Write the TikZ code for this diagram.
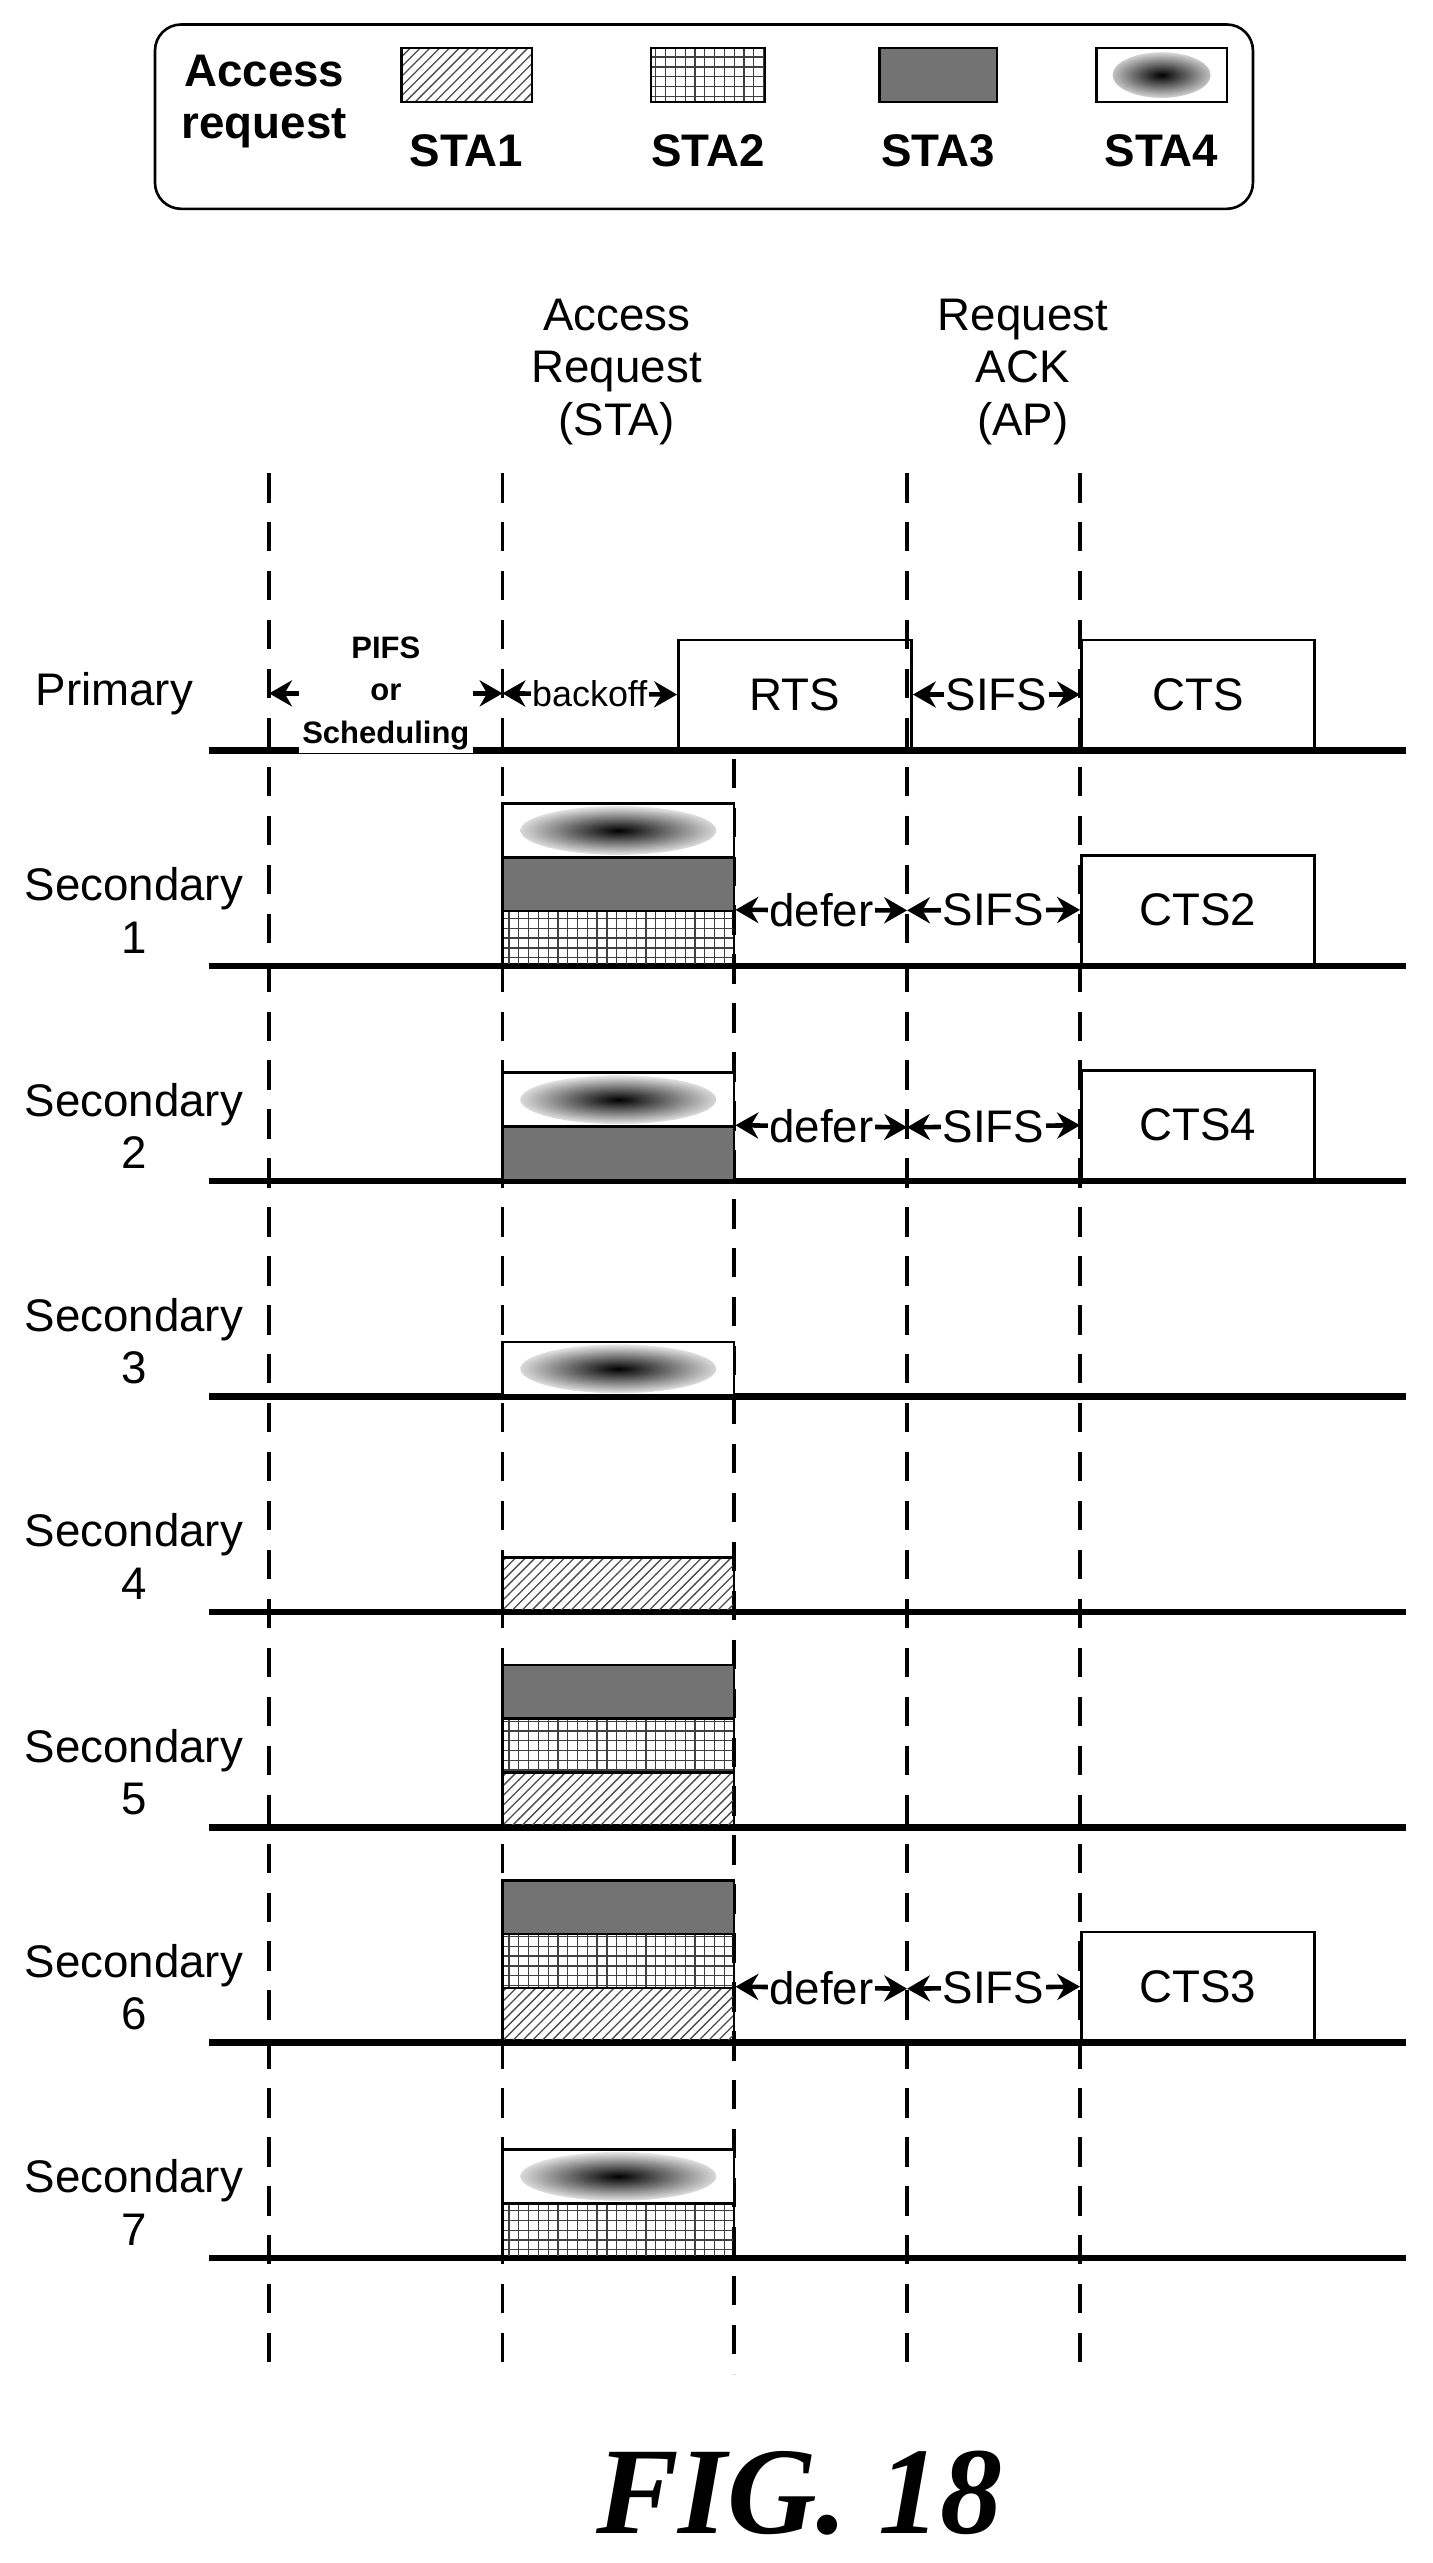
\documentclass[tikz,border=0pt]{standalone}
\usepackage{fontspec}
\setmainfont{Liberation Sans}
\usetikzlibrary{positioning, arrows.meta, patterns}

\begin{document}
\begin{tikzpicture}[%
		x=0.5pt, y=-0.5pt,
		lbl/.style={
			font=\fontsize{14}{16}\selectfont,
			align=center
		},
		slot/.style={
			rectangle,
			draw,
			thick,
			minimum width=71pt,
			minimum height=16.5pt,
			inner sep=0pt
		},
		staA/.style={slot, pattern=north east lines, pattern color=black!70},
		staB/.style={slot, pattern=grid, pattern color=black!75},
		staC/.style={slot, fill=black!55},
		staD/.style={slot, fill=white,
			path picture={\shade[inner color=black, outer color=white]
				(path picture bounding box.center) ellipse (30pt and 7.5pt);}},
		frame/.style={
			rectangle,
			draw,
			thick,
			minimum width=71.5pt,
			minimum height=33.5pt,
			font=\fontsize{14}{16}\selectfont
		},
		span/.style={
			line width=1.4pt,
			{Stealth[length=7pt,width=8pt]}-{Stealth[length=7pt,width=8pt]}
		},
		gaplbl/.style={
			fill=white,
			inner sep=0.5pt,
			font=\fontsize{14}{16}\selectfont
		},
		timeline/.style={line width=2pt},
		guide/.style={line width=1.1pt, dash pattern=on 9pt off 6pt}
	]
	\useasboundingbox (0,0) rectangle (878,1571);

	% LEGEND
	\draw[thick, rounded corners=8pt] (95,15) rectangle (768,128);
	\node[lbl, font=\bfseries\fontsize{14}{16}\selectfont] (legend) at (162,62) {Access\\request};
	\node[staA, minimum width=40pt] (keyA) at (286,46) {};
	\node[staB, minimum width=35pt] (keyB) at (434,46) {};
	\node[staC, minimum width=36pt] (keyC) at (575,46) {};
	\node[staD, minimum width=40pt, path picture={\shade[inner color=black, outer color=white]
		(path picture bounding box.center) ellipse (15pt and 7pt);}] (keyD) at (712,46) {};
	\foreach \k/\n in {A/1,B/2,C/3,D/4}
		\node[lbl, font=\bfseries\fontsize{14}{16}\selectfont, below=6pt of key\k] {STA\n};

	% HEADERS
	\node[lbl] (hdrSTA) at (378,228) {Access\\Request\\(STA)};
	\node[lbl] (hdrAP) at (627,228) {Request\\ACK\\(AP)};

	% GUIDE LINES
	\foreach \x in {165,308,556,662}
		\draw[guide] (\x,290) -- (\x,1455);
	\draw[guide] (450,465) -- (450,1455);

	% TIMELINES
	\foreach \y in {460,592,724,856,988,1120,1252,1384}
		\draw[timeline] (128,\y) -- (862,\y);

	% PRIMARY
	\node[lbl] (primary) at (70,425) {Primary};
	\coordinate (p0) at (165,425);
	\coordinate (p1) at (308,425);
	\node[frame, anchor=south west] (rts) at (415,460) {RTS};
	\node[frame, anchor=south west] (cts) at (662,460) {CTS};
	\draw[span] (p0) -- node[lbl, fill=white, inner sep=1pt, font=\bfseries\fontsize{9.5}{13}\selectfont] (pifs) {PIFS\\or\\Scheduling} (p1);
	\draw[span] (p1) -- node[gaplbl, font=\fontsize{11}{13}\selectfont] {backoff} (rts.west);
	\draw[span] (rts.east) -- node[gaplbl] {SIFS} (cts.west);

	% SECONDARY ROWS
	\node[lbl] (sec1) at (82,558) {Secondary\\1};
	\node[staD] (s1d) at (379,509) {};
	\node[staC] (s1c) at (379,542) {};
	\node[staB] (s1b) at (379,575) {};
	\node[frame, anchor=south west] (cts2) at (662,592) {CTS2};
	\coordinate (s1x) at (556,558);
	\draw[span] (s1b.north east) -- node[gaplbl] {defer} (s1x);
	\draw[span] (s1x) -- node[gaplbl] {SIFS} (cts2.west);

	\node[lbl] (sec2) at (82,690) {Secondary\\2};
	\node[staD] (s2d) at (379,674) {};
	\node[staC] (s2c) at (379,707) {};
	\node[frame, anchor=south west] (cts4) at (662,724) {CTS4};
	\coordinate (s2x) at (556,691);
	\draw[span] (s2c.north east) -- node[gaplbl] {defer} (s2x);
	\draw[span] (s2x) -- node[gaplbl] {SIFS} (cts4.west);

	\node[lbl] (sec3) at (82,822) {Secondary\\3};
	\node[staD] (s3d) at (379,839) {};

	\node[lbl] (sec4) at (82,954) {Secondary\\4};
	\node[staA] (s4a) at (379,971) {};

	\node[lbl] (sec5) at (82,1086) {Secondary\\5};
	\node[staC] (s5c) at (379,1037) {};
	\node[staB] (s5b) at (379,1070) {};
	\node[staA] (s5a) at (379,1103) {};

	\node[lbl] (sec6) at (82,1218) {Secondary\\6};
	\node[staC] (s6c) at (379,1169) {};
	\node[staB] (s6b) at (379,1202) {};
	\node[staA] (s6a) at (379,1235) {};
	\node[frame, anchor=south west] (cts3) at (662,1252) {CTS3};
	\coordinate (s6x) at (556,1219);
	\draw[span] (s6a.north east) -- node[gaplbl] {defer} (s6x);
	\draw[span] (s6x) -- node[gaplbl] {SIFS} (cts3.west);

	\node[lbl] (sec7) at (82,1350) {Secondary\\7};
	\node[staD] (s7d) at (379,1334) {};
	\node[staB] (s7b) at (379,1367) {};

	% CAPTION
	\node[font=\fontspec{Liberation Serif}\bfseries\itshape\fontsize{38}{40}\selectfont] (fig) at (490,1528) {FIG. 18};
\end{tikzpicture}
\end{document}
